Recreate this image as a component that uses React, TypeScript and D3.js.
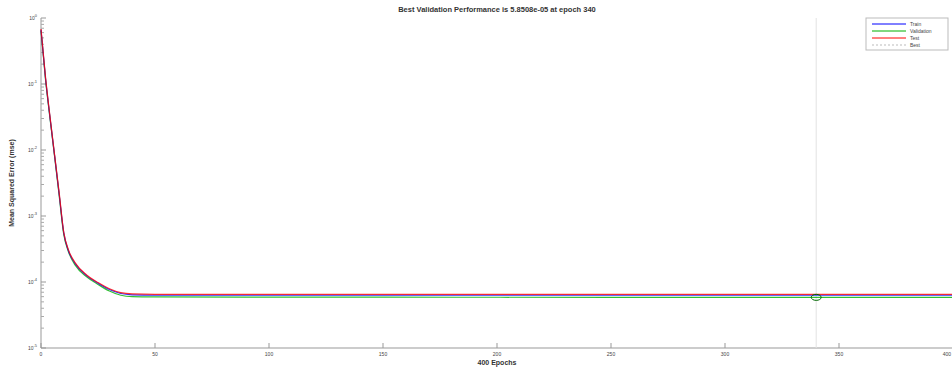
import React, { useEffect, useRef } from 'react';
import * as d3 from 'd3';

const epochs = [0, 2, 4, 6, 8, 10, 12, 15, 20, 25, 30, 35, 40, 50, 100, 150, 200, 250, 300, 340, 400];
const trainPerf = [0.66, 0.12, 0.03, 0.008, 0.0021, 0.00055, 0.0003, 0.00019, 0.000125, 0.000096, 0.000077, 0.000067, 0.000064, 0.000063, 0.000063, 0.000063, 0.000063, 0.000063, 0.000063, 0.000063, 0.000063];
const valPerf = [0.64, 0.115, 0.029, 0.0078, 0.002, 0.00052, 0.00029, 0.00018, 0.00012, 0.000092, 0.000073, 0.000063, 0.000060, 0.0000595, 0.000059, 0.0000588, 0.0000587, 0.0000586, 0.0000585, 0.0000585, 0.0000585];
const testPerf = [0.68, 0.125, 0.031, 0.0082, 0.0022, 0.00056, 0.00031, 0.000195, 0.000128, 0.000098, 0.000079, 0.000069, 0.000066, 0.000065, 0.000065, 0.000065, 0.000065, 0.000065, 0.000065, 0.000065, 0.000065];
const bestEpoch = 340;
const bestPerf = 0.0000585;
const xTicks = [0, 50, 100, 150, 200, 250, 300, 350, 400];
const yTickExps = [0, -1, -2, -3, -4, -5];
const legendNames = ['Train', 'Validation', 'Test', 'Best'];
const legendColors = ['#0000ff', '#00b000', '#ff0000', '#bbbbbb'];

const App = () => {
  const svgRef = useRef<SVGSVGElement>(null);

  useEffect(() => {
    const svg = d3.select(svgRef.current);
    svg.selectAll('*').remove();

    const left = 41, right = 953, top = 18, bottom = 348;
    const textColor = '#444';

    const x = d3.scaleLinear().domain([0, 400]).range([left, right]);
    const y = d3.scaleLog().domain([1e-5, 1]).range([bottom, top]);

    // title
    svg.append('text')
      .attr('x', 497).attr('y', 12)
      .attr('text-anchor', 'middle')
      .style('font-size', '7.5px').style('font-weight', 'bold').attr('fill', '#333')
      .text('Best Validation Performance is 5.8508e-05 at epoch 340');

    // x axis
    svg.append('line').attr('x1', left).attr('x2', right).attr('y1', bottom).attr('y2', bottom)
      .attr('stroke', '#999').attr('stroke-width', 1);
    xTicks.forEach((t, i) => {
      svg.append('line').attr('x1', x(t)).attr('x2', x(t)).attr('y1', bottom).attr('y2', bottom - 5)
        .attr('stroke', '#999');
      svg.append('text').attr('x', Math.min(x(t), 951)).attr('y', bottom + 8)
        .attr('text-anchor', i === xTicks.length - 1 ? 'end' : 'middle')
        .style('font-size', '5px').attr('fill', textColor)
        .text(t);
    });
    svg.append('text')
      .attr('x', 497).attr('y', 365)
      .attr('text-anchor', 'middle')
      .style('font-size', '7px').style('font-weight', 'bold').attr('fill', '#333')
      .text('400 Epochs');

    // y axis
    svg.append('line').attr('x1', left).attr('x2', left).attr('y1', top).attr('y2', bottom)
      .attr('stroke', '#999').attr('stroke-width', 1);
    yTickExps.forEach(e => {
      const py = y(Math.pow(10, e));
      svg.append('line').attr('x1', left).attr('x2', left + 5).attr('y1', py).attr('y2', py).attr('stroke', '#999');
      const t = svg.append('text').attr('x', left - 4).attr('y', py + 2)
        .attr('text-anchor', 'end').style('font-size', '5px').attr('fill', textColor);
      t.append('tspan').text('10');
      t.append('tspan').attr('dy', -3).style('font-size', '4px').text(e);
      if (e > -5) {
        for (let m = 2; m < 10; m++) {
          const my = y(m * Math.pow(10, e - 1));
          svg.append('line').attr('x1', left).attr('x2', left + 3).attr('y1', my).attr('y2', my).attr('stroke', '#aaa');
        }
      }
    });
    svg.append('text')
      .attr('transform', `translate(14,${(top + bottom) / 2}) rotate(-90)`)
      .attr('text-anchor', 'middle')
      .style('font-size', '7px').style('font-weight', 'bold').attr('fill', '#333')
      .text('Mean Squared Error  (mse)');

    // best marker line
    svg.append('line').attr('x1', x(bestEpoch)).attr('x2', x(bestEpoch)).attr('y1', top).attr('y2', bottom)
      .attr('stroke', '#e2e2e2').attr('stroke-width', 1);

    const line = d3.line<number>()
      .x((_, i) => x(epochs[i]))
      .y(d => y(d))
      .curve(d3.curveMonotoneX);

    const series = [
      { v: valPerf, c: legendColors[1] },
      { v: trainPerf, c: legendColors[0] },
      { v: testPerf, c: legendColors[2] },
    ];
    series.forEach(s => {
      svg.append('path').datum(s.v).attr('d', line)
        .attr('fill', 'none').attr('stroke', s.c).attr('stroke-width', 1.2).attr('stroke-opacity', 0.8);
    });

    svg.append('ellipse').attr('cx', x(bestEpoch)).attr('cy', y(bestPerf)).attr('rx', 5).attr('ry', 3)
      .attr('fill', 'none').attr('stroke', '#006600').attr('stroke-width', 1);

    // legend
    const lg = svg.append('g').attr('transform', 'translate(866,18)');
    lg.append('rect').attr('width', 82).attr('height', 32).attr('fill', '#fff').attr('stroke', '#bbb');
    legendNames.forEach((n, i) => {
      const ly = 6 + i * 7;
      lg.append('line').attr('x1', 6).attr('x2', 40).attr('y1', ly).attr('y2', ly)
        .attr('stroke', legendColors[i]).attr('stroke-width', 1)
        .attr('stroke-dasharray', n === 'Best' ? '2,2' : null);
      lg.append('text').attr('x', 44).attr('y', ly + 2)
        .style('font-size', '5px').attr('fill', textColor).text(n);
    });
  }, []);

  return (
    <svg ref={svgRef} width={952} height={372}
      style={{ position: 'absolute', left: 0, top: 0, background: 'white', fontFamily: 'Liberation Sans, Arial, sans-serif' }} />
  );
};

export default App;
